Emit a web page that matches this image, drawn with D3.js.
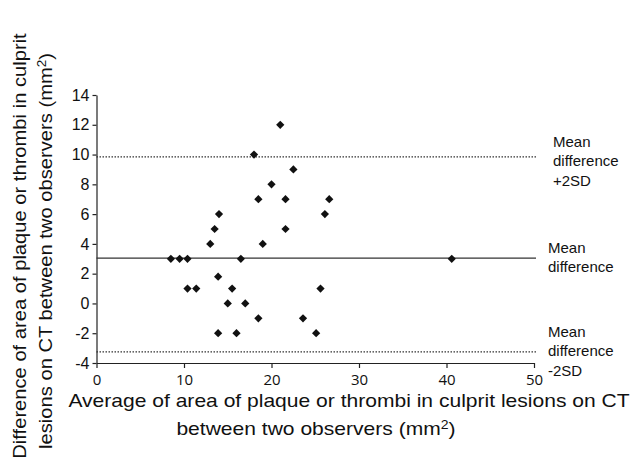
<!DOCTYPE html>
<html lang="en">
<head>
<meta charset="UTF-8">
<title>Bland-Altman plot</title>
<script src="https://d3js.org/d3.v7.min.js"></script>
<style>
  body { margin: 0; background: #fff; }
  text { fill: #111; }
</style>
</head>
<body>
<script>
// averages (x) and differences (y) of the two observers
const avgArea = [21.0, 18.0, 22.5, 20.0, 18.5, 21.6, 26.6, 14.0, 26.1, 13.5, 21.6,
                 13.0, 19.0, 8.5, 9.5, 10.4, 16.5, 13.9, 10.4, 11.4, 15.5, 25.6,
                 15.0, 17.0, 18.5, 23.6, 13.9, 16.0, 25.1, 40.6];
const diffArea = [12, 10, 9, 8, 7, 7, 7, 6, 6, 5, 5,
                  4, 4, 3, 3, 3, 3, 1.8, 1, 1, 1, 1,
                  0, 0, -1, -1, -2, -2, -2, 3];
const meanDiff = 3.05;
const upperLimit = 9.85;
const lowerLimit = -3.25;
const xTicks = [0, 10, 20, 30, 40, 50];
const yTicks = [-4, -2, 0, 2, 4, 6, 8, 10, 12, 14];

const width = 636, height = 463;
const font = "'Liberation Sans', Arial, sans-serif";
const svg = d3.select("body").append("svg")
    .attr("width", width)
    .attr("height", height);

const x = d3.scaleLinear().domain([0, 50]).range([96.5, 534]);
const y = d3.scaleLinear().domain([-4, 14]).range([363, 95]);

// axes
const xAxis = svg.append("g")
    .attr("transform", `translate(0,${y(-4)})`)
    .call(d3.axisBottom(x).tickValues(xTicks).tickSize(5).tickSizeOuter(0));
xAxis.selectAll("text")
    .attr("dy", "0.95em")
    .attr("font-family", "'Open Sans', sans-serif")
    .attr("font-size", 15);

const yAxis = svg.append("g")
    .attr("transform", `translate(${x(0)},0)`)
    .call(d3.axisLeft(y).tickValues(yTicks).tickFormat(d => String(d))
      .tickSize(4).tickSizeOuter(0));
yAxis.selectAll("text")
    .attr("x", -7)
    .attr("font-family", font)
    .attr("font-size", 16);

svg.selectAll(".domain, .tick line").attr("stroke", "#222").attr("stroke-width", 1.2);

// limit lines
const refLines = [
  { v: upperLimit, dash: "1.5,1.5", lines: ["Mean", "difference", "+2SD"], lx: 553, ly: 141 },
  { v: meanDiff, dash: null, lines: ["Mean", "difference"], lx: 548, ly: 247 },
  { v: lowerLimit, dash: "1.5,1.5", lines: ["Mean", "difference", "-2SD"], lx: 548, ly: 331 }
];

svg.selectAll(".ref")
  .data(refLines)
  .enter().append("line")
    .attr("class", "ref")
    .attr("x1", x(0)).attr("x2", x(50) + 2)
    .attr("y1", d => y(d.v)).attr("y2", d => y(d.v))
    .attr("stroke", "#333")
    .attr("stroke-width", 1.2)
    .attr("stroke-dasharray", d => d.dash);

refLines.forEach(d => {
  const t = svg.append("text")
      .attr("x", d.lx).attr("y", d.ly + 6)
      .attr("font-family", font)
      .attr("font-size", 15);
  d.lines.forEach((s, i) => {
    t.append("tspan").attr("x", d.lx).attr("dy", i === 0 ? 0 : 19.3).text(s);
  });
});

// points
svg.selectAll(".pt")
  .data(avgArea.map((a, i) => [a, diffArea[i]]))
  .enter().append("path")
    .attr("class", "pt")
    .attr("d", d3.symbol().type(d3.symbolSquare).size(34))
    .attr("transform", d => `translate(${x(d[0])},${y(d[1])}) rotate(45)`)
    .attr("fill", "#111");

// axis titles (source picture is slightly stretched horizontally)
const xTitle = svg.append("g")
    .attr("transform", "scale(1.17,1)")
  .append("text")
    .attr("text-anchor", "middle")
    .attr("font-family", font)
    .attr("font-size", 18);
xTitle.append("tspan").attr("x", 349 / 1.17).attr("y", 407)
    .text("Average of area of plaque or thrombi in culprit lesions on CT");
const xl2 = xTitle.append("tspan").attr("x", 316 / 1.17).attr("y", 435);
xl2.append("tspan").text("between two observers (mm");
xl2.append("tspan").attr("dy", -6).attr("font-size", 12).text("2");
xl2.append("tspan").attr("dy", 6).text(")");

const ys = 1.12;
const yTitle = svg.append("text")
    .attr("transform", `rotate(-90) scale(${ys},1)`)
    .attr("text-anchor", "middle")
    .attr("font-family", font)
    .attr("font-size", 18);
yTitle.append("tspan").attr("x", -246 / ys).attr("y", 26)
    .text("Difference  of area of plaque or thrombi in culprit");
const yl2 = yTitle.append("tspan").attr("x", -251 / ys).attr("y", 52);
yl2.append("tspan").text("lesions on CT between two observers (mm");
yl2.append("tspan").attr("dy", -6).attr("font-size", 12).text("2");
yl2.append("tspan").attr("dy", 6).text(")");
</script>
</body>
</html>
